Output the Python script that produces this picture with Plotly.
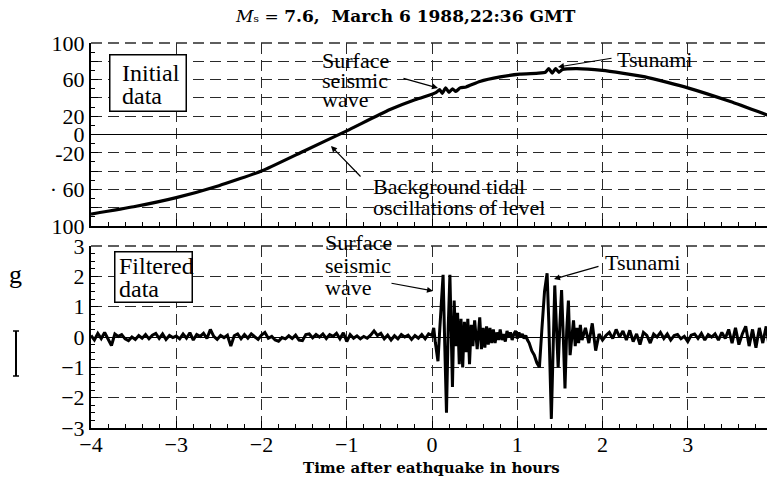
import numpy as np
import plotly.graph_objects as go

# ---------------- data ----------------
# Initial (unfiltered) sea-level record vs time after earthquake (h)
tide_t = [-4.0, -3.5, -3.0, -2.5, -2.0, -1.5, -1.0, -0.5, -0.2, 0.0, 0.05, 0.09, 0.12,
          0.16, 0.2, 0.24, 0.28, 0.33, 0.4, 0.56, 0.8, 1.03, 1.25, 1.33, 1.37, 1.41, 1.45,
          1.49, 1.53, 1.7, 2.0, 2.5, 3.0, 3.5, 4.0]
tide_v = [-87, -79, -69, -56, -40, -18, 4, 27, 38, 44, 46, 49, 45,
          51, 46, 50, 47, 51, 52, 58, 63, 66, 67, 68, 72, 67, 72,
          68, 71, 72, 70, 63, 51, 36, 19]

# Filtered record: quiet part before the earthquake (-4.00 .. -0.04 h, every 0.04 h)
pre_start, pre_step = -4.0, 0.04
pre_v = [0.05, -0.1, 0.12, -0.05, 0.15, -0.08, -0.28, 0.1, 0.02, 0.08,
         -0.06, -0.12, 0.0, -0.08, 0.05, -0.04, 0.08, -0.06, 0.06, 0.12,
         -0.05, 0.1, -0.08, 0.05, -0.02, 0.03, -0.06, 0.1, -0.04, 0.14,
         -0.1, 0.08, 0.02, 0.12, -0.05, 0.25, 0.02, -0.08, 0.05, -0.02,
         0.06, -0.3, 0.04, 0.1, -0.06, 0.08, -0.04, 0.1, 0.0, -0.08,
         0.06, 0.15, -0.04, 0.02, -0.1, -0.14, -0.02, -0.06, 0.04, -0.05,
         0.06, -0.1, -0.12, 0.08, 0.1, -0.03, 0.08, 0.0, 0.1, -0.05,
         0.08, 0.02, 0.12, -0.06, 0.14, -0.15, 0.08, -0.04, 0.04, -0.06,
         0.02, -0.04, 0.06, 0.2, 0.05, 0.12, -0.06, 0.06, -0.1, 0.04,
         -0.06, 0.08, 0.0, 0.06, -0.08, 0.05, -0.04, 0.08, -0.06, 0.1]

# Surface seismic wave and tsunami arrivals (0 .. 1.76 h)
burst_t = [0.00, 0.02, 0.04, 0.07, 0.09, 0.11, 0.13, 0.15, 0.17, 0.19,
           0.21, 0.225, 0.24, 0.26, 0.28, 0.30, 0.32, 0.34, 0.36, 0.38,
           0.40, 0.42, 0.44, 0.46, 0.48, 0.50, 0.53, 0.56, 0.58, 0.60,
           0.62, 0.64, 0.66, 0.68, 0.70, 0.72, 0.74, 0.76, 0.78, 0.80,
           0.82, 0.84, 0.86, 0.88, 0.90, 0.92, 0.94, 0.96, 0.98, 1.00,
           1.02, 1.04, 1.06, 1.08, 1.10, 1.12, 1.14, 1.17, 1.20, 1.23,
           1.26, 1.29, 1.32, 1.35, 1.37, 1.40, 1.42, 1.44, 1.46, 1.48,
           1.50, 1.52, 1.54, 1.56, 1.58, 1.60, 1.62, 1.64, 1.66, 1.68,
           1.70, 1.72, 1.74, 1.76]
burst_v = [0.05, 0.3, -0.2, -0.8, 0.2, 1.0, 2.05, -0.3, -2.5, 0.3,
           2.05, 0.2, -1.65, 1.2, -0.3, 0.8, -0.9, 0.6, -1.0, 0.5,
           -0.5, 0.6, -0.9, 0.4, -0.3, 0.55, -0.4, 0.65, -0.4, 0.3,
           -0.35, 0.35, -0.25, 0.3, -0.2, 0.25, -0.2, 0.15, -0.1, 0.25,
           -0.1, 0.1, -0.15, 0.2, 0.0, 0.15, -0.1, 0.1, 0.2, -0.05,
           0.15, 0.0, 0.1, -0.05, 0.05, -0.1, -0.2, -0.45, -0.6, -0.85,
           -1.0, 0.3, 1.5, 2.1, 0.5, -2.7, 0.0, 1.7, 0.3, -1.0,
           0.4, 1.55, 0.0, -1.7, 0.2, 1.2, -0.6, 0.1, 0.55, -0.3,
           0.3, -0.2, 0.4, -0.1]

# After the tsunami (1.80 .. 4.00 h, every 0.04 h)
post_start, post_step = 1.80, 0.04
post_v = [0.3, -0.2, 0.45, -0.45, 0.1, -0.1, 0.05, 0.15, -0.05, 0.25,
          0.0, 0.2, -0.1, 0.22, -0.15, 0.1, -0.25, 0.15, 0.05, -0.2,
          0.1, 0.0, 0.15, -0.05, 0.1, -0.1, 0.05, 0.08, -0.06, 0.02,
          -0.15, 0.06, 0.1, -0.05, 0.12, -0.1, 0.08, 0.0, 0.1, -0.1,
          0.15, -0.05, 0.25, -0.2, 0.3, -0.25, 0.1, 0.35, -0.3, 0.25,
          -0.35, 0.3, -0.2, 0.35, -0.4, 0.25]

x_ticks = [-4, -3, -2, -1, 0, 1, 2, 3, 4]
x_ticktext = ["\u22124", "\u22123", "\u22122", "\u22121", "0", "1", "2", "3", "4"]
top_ticks = [100, 80, 60, 40, 20, 0, -20, -40, -60, -80, -100]
top_ticktext = ["100", "", "60", "", "20", "0", "-20", "", "\u00b7 60", "", "100"]
bot_ticks = [3, 2, 1, 0, -1, -2, -3]
bot_ticktext = ["3", "2", "1", "0", "\u22121", "\u22122", "\u22123"]

title_text = "<i>M</i>\u209b = <b>7.6,  March 6 1988,22:36 GMT</b>"
xlabel_text = "<b>Time after eathquake in hours</b>"

# ---------------- build ----------------
pre_t = np.round(pre_start + pre_step * np.arange(len(pre_v)), 3)
post_t = np.round(post_start + post_step * np.arange(len(post_v)), 3)
filt_t = list(pre_t) + burst_t + list(post_t)
filt_v = pre_v + burst_v + post_v

# The page has an 8px body margin, so the figure is laid out 8px smaller and
# every reference pixel position is shifted by OFF.
OFF = 8
W, H = 775 - OFF, 486 - OFF
PL, PR, PT, PB = 91 - OFF, 773 - OFF, 43 - OFF, 428 - OFF
TOP_BOTTOM_PX, BOT_TOP_PX = 226 - OFF, 246 - OFF


def pxx(x):  # reference pixel x -> paper
    return (x - OFF - PL) / (PR - PL)


def pxy(y):  # reference pixel y -> paper
    return (PB - (y - OFF)) / (PB - PT)


FONT = "Liberation Serif"
fig = go.Figure()
fig.add_trace(go.Scatter(x=tide_t, y=tide_v, mode="lines", xaxis="x", yaxis="y",
                         line=dict(color="black", width=3.2, shape="spline", smoothing=0.4),
                         hoverinfo="skip", showlegend=False))
fig.add_trace(go.Scatter(x=filt_t, y=filt_v, mode="lines", xaxis="x2", yaxis="y2",
                         line=dict(color="black", width=3),
                         hoverinfo="skip", showlegend=False))

GRID = "#2a2a2a"
grid_common = dict(showgrid=True, gridcolor=GRID, gridwidth=1.3, griddash="11px,6px",
                   showline=True, linecolor="black", linewidth=2, ticks="inside",
                   ticklen=7, tickwidth=1.2, tickcolor="black", automargin=False,
                   ticklabeloverflow="allow",
                   tickfont=dict(family=FONT, size=22, color="black"))

xa = dict(range=[-4, 4], tickvals=x_ticks, zeroline=False,
          minor=dict(ticks="inside", dtick=0.2, ticklen=4, tickcolor="black", showgrid=False),
          **grid_common)

fig.update_layout(
    width=W, height=H,
    margin=dict(l=PL, r=W - PR, t=PT, b=H - PB),
    paper_bgcolor="white", plot_bgcolor="white",
    xaxis=dict(domain=[0, 1], anchor="y", showticklabels=False, **xa),
    yaxis=dict(domain=[(PB - TOP_BOTTOM_PX) / (PB - PT), 1], anchor="x", range=[-100, 100],
               tickvals=top_ticks, ticktext=top_ticktext, zeroline=True,
               zerolinecolor="black", zerolinewidth=1.2, ticklabelstandoff=0,
               minor=dict(ticks="inside", dtick=10, ticklen=4, tickcolor="black", showgrid=False),
               **grid_common),
    xaxis2=dict(domain=[0, 1], anchor="y2", ticktext=x_ticktext, ticklabelstandoff=-4, **xa),
    yaxis2=dict(domain=[0, (PB - BOT_TOP_PX) / (PB - PT)], anchor="x2", range=[-3, 3],
                tickvals=bot_ticks, ticktext=bot_ticktext, zeroline=True,
                zerolinecolor="black", zerolinewidth=1.2, ticklabelstandoff=0,
                minor=dict(ticks="inside", dtick=0.25, ticklen=4, tickcolor="black", showgrid=False),
                **grid_common),
)


def text_ann(x, y, text, size=22, xanchor="left", family=FONT):
    return dict(x=pxx(x), y=pxy(y), xref="paper", yref="paper", text=text, showarrow=False,
                xanchor=xanchor, yanchor="middle", align="left",
                font=dict(family=family, size=size, color="black"))


def box_ann(x0, y0, x1, y1):
    return dict(x=pxx((x0 + x1) / 2), y=pxy((y0 + y1) / 2), xref="paper", yref="paper",
                text=" ", showarrow=False, xanchor="center", yanchor="middle",
                width=x1 - x0 - 4, height=y1 - y0 - 4, borderpad=0,
                bordercolor="black", borderwidth=1.5, bgcolor="white",
                font=dict(family=FONT, size=10, color="black"))


def arrow(hx, hy, tx, ty):
    return dict(x=pxx(hx), y=pxy(hy), xref="paper", yref="paper", text="", showarrow=True,
                ax=tx - hx, ay=ty - hy, arrowhead=2, arrowsize=1, arrowwidth=1.2,
                arrowcolor="black", standoff=0, startstandoff=0)


ann = [
    text_ann(405, 16, title_text, size=17, xanchor="center", family="DejaVu Serif"),
    box_ann(108, 53, 187, 112),
    text_ann(120, 73, "Initial", size=24),
    text_ann(120, 96, "data", size=24),
    box_ann(113, 250, 193, 303),
    text_ann(117, 266, "Filtered", size=24),
    text_ann(117, 289, "data", size=24),
    text_ann(320, 60, "Surface"),
    text_ann(320, 80, "seismic"),
    text_ann(320, 99, "wave"),
    arrow(438, 88, 402, 78),
    text_ann(615, 59, "Tsunami"),
    arrow(558, 67, 613, 58),
    text_ann(371, 186, "Background tidal"),
    text_ann(371, 207, "oscillations of level"),
    arrow(331, 146, 362, 178),
    text_ann(323, 243, "Surface"),
    text_ann(323, 265, "seismic"),
    text_ann(323, 287, "wave"),
    arrow(433, 291, 390, 283),
    text_ann(603, 262, "Tsunami"),
    arrow(554, 279, 600, 266),
    text_ann(431, 468, xlabel_text, size=15, xanchor="center", family="DejaVu Serif"),
    text_ann(15, 274, "g", size=26, xanchor="center"),
]
fig.update_layout(annotations=ann)

dash_line = dict(color=GRID, width=1.3, dash="11px,6px")
shapes = [
    # dashed top and right frame edges of both panels
    dict(type="line", xref="x domain", yref="y domain", x0=0, x1=1, y0=1, y1=1, line=dash_line),
    dict(type="line", xref="x domain", yref="y domain", x0=1, x1=1, y0=0, y1=1, line=dash_line),
    dict(type="line", xref="x2 domain", yref="y2 domain", x0=0, x1=1, y0=1, y1=1, line=dash_line),
    dict(type="line", xref="x2 domain", yref="y2 domain", x0=1, x1=1, y0=0, y1=1, line=dash_line),
    # scale bar in the left margin
    dict(type="line", xref="paper", yref="paper", x0=pxx(16), x1=pxx(16), y0=pxy(331), y1=pxy(376),
         line=dict(color="black", width=2)),
    dict(type="line", xref="paper", yref="paper", x0=pxx(13), x1=pxx(19), y0=pxy(331), y1=pxy(331),
         line=dict(color="black", width=1.5)),
    dict(type="line", xref="paper", yref="paper", x0=pxx(13), x1=pxx(19), y0=pxy(376), y1=pxy(376),
         line=dict(color="black", width=1.5)),
]
fig.update_layout(shapes=shapes)

fig.write_html("out.html")
